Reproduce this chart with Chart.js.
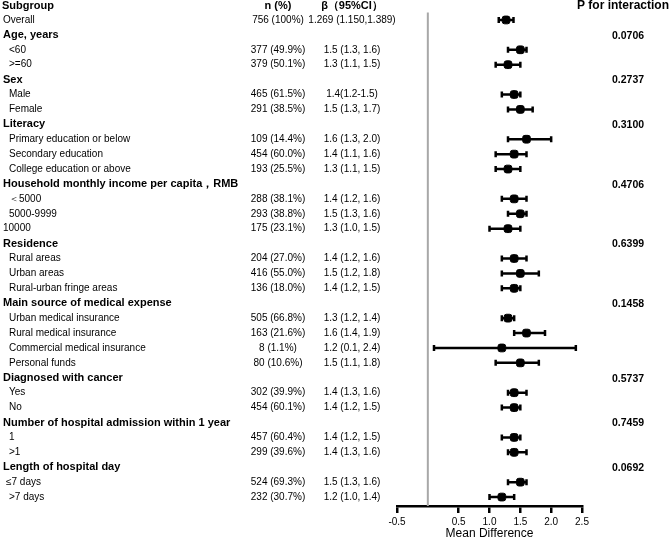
<!DOCTYPE html>
<html>
<head>
<meta charset="utf-8">
<script src="https://cdn.jsdelivr.net/npm/chart.js@4/dist/chart.umd.min.js"></script>
<style>
body { margin: 0; background: #fff; }
#box { width: 669px; height: 539px; }
</style>
</head>
<body>
<div id="box"><canvas id="myChart"></canvas></div>
<script>
// table rows (Overall .. >7 days)
var subgroups = [
    'Overall',
    'Age, years', '  <60', '  >=60',
    'Sex', '  Male', '  Female',
    'Literacy', '  Primary education or below', '  Secondary education', '  College education or above',
    'Household monthly income per capita，RMB', '  ＜5000', '  5000-9999', '10000',
    'Residence', '  Rural areas', '  Urban areas', '  Rural-urban fringe areas',
    'Main source of medical expense', '  Urban medical insurance', '  Rural medical insurance', '  Commercial medical insurance', '  Personal funds',
    'Diagnosed with cancer', '  Yes', '  No',
    'Number of hospital admission within 1 year', '  1', '  >1',
    'Length of hospital day', ' ≤7 days', '  >7 days'
];
var isHeader = [0, 1, 0, 0, 1, 0, 0, 1, 0, 0, 0, 1, 0, 0, 0, 1, 0, 0, 0, 1, 0, 0, 0, 0, 1, 0, 0, 1, 0, 0, 1, 0, 0];
var nText = ['756 (100%)', '', '377 (49.9%)', '379 (50.1%)', '', '465 (61.5%)', '291 (38.5%)',
    '', '109 (14.4%)', '454 (60.0%)', '193 (25.5%)', '', '288 (38.1%)', '293 (38.8%)', '175 (23.1%)',
    '', '204 (27.0%)', '416 (55.0%)', '136 (18.0%)', '', '505 (66.8%)', '163 (21.6%)', '8 (1.1%)', '80 (10.6%)',
    '', '302 (39.9%)', '454 (60.1%)', '', '457 (60.4%)', '299 (39.6%)', '', '524 (69.3%)', '232 (30.7%)'];
var betaText = ['1.269 (1.150,1.389)', '', '1.5 (1.3, 1.6)', '1.3 (1.1, 1.5)', '', '1.4(1.2-1.5)', '1.5 (1.3, 1.7)',
    '', '1.6 (1.3, 2.0)', '1.4 (1.1, 1.6)', '1.3 (1.1, 1.5)', '', '1.4 (1.2, 1.6)', '1.5 (1.3, 1.6)', '1.3 (1.0, 1.5)',
    '', '1.4 (1.2, 1.6)', '1.5 (1.2, 1.8)', '1.4 (1.2, 1.5)', '', '1.3 (1.2, 1.4)', '1.6 (1.4, 1.9)', '1.2 (0.1, 2.4)', '1.5 (1.1, 1.8)',
    '', '1.4 (1.3, 1.6)', '1.4 (1.2, 1.5)', '', '1.4 (1.2, 1.5)', '1.4 (1.3, 1.6)', '', '1.5 (1.3, 1.6)', '1.2 (1.0, 1.4)'];
var est = [1.269, null, 1.5, 1.3, null, 1.4, 1.5, null, 1.6, 1.4, 1.3, null, 1.4, 1.5, 1.3,
    null, 1.4, 1.5, 1.4, null, 1.3, 1.6, 1.2, 1.5, null, 1.4, 1.4, null, 1.4, 1.4, null, 1.5, 1.2];
var lower = [1.150, null, 1.3, 1.1, null, 1.2, 1.3, null, 1.3, 1.1, 1.1, null, 1.2, 1.3, 1.0,
    null, 1.2, 1.2, 1.2, null, 1.2, 1.4, 0.1, 1.1, null, 1.3, 1.2, null, 1.2, 1.3, null, 1.3, 1.0];
var upper = [1.389, null, 1.6, 1.5, null, 1.5, 1.7, null, 2.0, 1.6, 1.5, null, 1.6, 1.6, 1.5,
    null, 1.6, 1.8, 1.5, null, 1.4, 1.9, 2.4, 1.8, null, 1.6, 1.5, null, 1.5, 1.6, null, 1.6, 1.4];
var pValues = ['', '0.0706', '', '', '0.2737', '', '', '0.3100', '', '', '', '0.4706', '', '', '',
    '0.6399', '', '', '', '0.1458', '', '', '', '', '0.5737', '', '', '0.7459', '', '', '0.0692', '', ''];
var xTicks = [-0.5, 0.5, 1, 1.5, 2, 2.5];

var FONT = 'Arial, "Liberation Sans", Helvetica, sans-serif';

var points = [];
for (var i = 0; i < est.length; i++) {
    if (est[i] != null) points.push({ x: est[i], y: i });
}

// zero line, CI whiskers and the text columns
var forestPlugin = {
    id: 'forest',
    beforeDatasetsDraw: function (chart) {
        var ctx = chart.ctx;
        var xs = chart.scales.x;
        var ys = chart.scales.y;
        var area = chart.chartArea;
        ctx.save();
        var x0 = xs.getPixelForValue(0);
        ctx.strokeStyle = '#a8a8a8';
        ctx.lineWidth = 2;
        ctx.beginPath();
        ctx.moveTo(x0, area.top);
        ctx.lineTo(x0, area.bottom);
        ctx.stroke();

        ctx.strokeStyle = '#000';
        ctx.lineWidth = 2.5;
        for (var i = 0; i < est.length; i++) {
            if (lower[i] == null) continue;
            var y = ys.getPixelForValue(i);
            var a = xs.getPixelForValue(lower[i]);
            var b = xs.getPixelForValue(upper[i]);
            ctx.beginPath();
            ctx.moveTo(a, y); ctx.lineTo(b, y);
            ctx.moveTo(a, y - 3); ctx.lineTo(a, y + 3);
            ctx.moveTo(b, y - 3); ctx.lineTo(b, y + 3);
            ctx.stroke();
        }
        ctx.restore();
    },
    afterDraw: function (chart) {
        var ctx = chart.ctx;
        var ys = chart.scales.y;
        ctx.save();
        ctx.fillStyle = '#000';
        ctx.textBaseline = 'middle';

        var yh = ys.getPixelForValue(-1) + 1;
        ctx.font = 'bold 11px ' + FONT;
        ctx.textAlign = 'left';
        ctx.fillText('Subgroup', 2, yh);
        ctx.textAlign = 'center';
        ctx.fillText('n (%)', 278, yh);
        ctx.fillText('β（95%CI）', 352, yh);
        ctx.textAlign = 'left';
        ctx.font = 'bold 12px ' + FONT;
        ctx.fillText('P for interaction', 577, yh);

        for (var i = 0; i < subgroups.length; i++) {
            var y = ys.getPixelForValue(i);
            var label = subgroups[i].replace(/^ +/, '');
            var pad = subgroups[i].length - label.length;
            ctx.textAlign = 'left';
            ctx.font = (isHeader[i] ? 'bold 11px ' : '10px ') + FONT;
            ctx.fillText(label, 3 + pad * 3, y);
            ctx.font = '10px ' + FONT;
            ctx.textAlign = 'center';
            ctx.fillText(nText[i], 278, y);
            ctx.fillText(betaText[i], 352, y);
            if (pValues[i]) {
                ctx.textAlign = 'left';
                ctx.font = 'bold 10.5px ' + FONT;
                ctx.fillText(pValues[i], 612, y + 1);
            }
        }
        ctx.restore();
    }
};

var ctx = document.getElementById('myChart').getContext('2d');
var myChart = new Chart(ctx, {
    type: 'scatter',
    data: {
        datasets: [{
            data: points,
            backgroundColor: '#000',
            borderColor: '#000',
            pointStyle: 'rectRounded',
            pointRadius: 4.5,
            pointHoverRadius: 4.5
        }]
    },
    options: {
        responsive: true,
        maintainAspectRatio: false,
        animation: false,
        layout: { padding: { left: 397, right: 87, top: 12.5, bottom: 0 } },
        plugins: {
            legend: { display: false },
            tooltip: { enabled: false }
        },
        scales: {
            x: {
                type: 'linear',
                min: -0.5,
                max: 2.5,
                afterBuildTicks: function (scale) {
                    scale.ticks = xTicks.map(function (v) { return { value: v }; });
                },
                afterFit: function (scale) { scale.height = 33; },
                grid: { drawOnChartArea: false, drawTicks: true, tickLength: 7, color: '#000', lineWidth: 2.5 },
                border: { display: true, color: '#000', width: 2.5 },
                ticks: { color: '#000', font: { size: 10, family: FONT }, padding: 3, autoSkip: false, maxRotation: 0 },
                title: { display: true, text: 'Mean Difference', color: '#000', font: { size: 12, family: FONT }, padding: { top: 0, bottom: -2 } }
            },
            y: {
                type: 'linear',
                min: -0.5,
                max: 32.6,
                reverse: true,
                display: false
            }
        }
    },
    plugins: [forestPlugin]
});
</script>
</body>
</html>
